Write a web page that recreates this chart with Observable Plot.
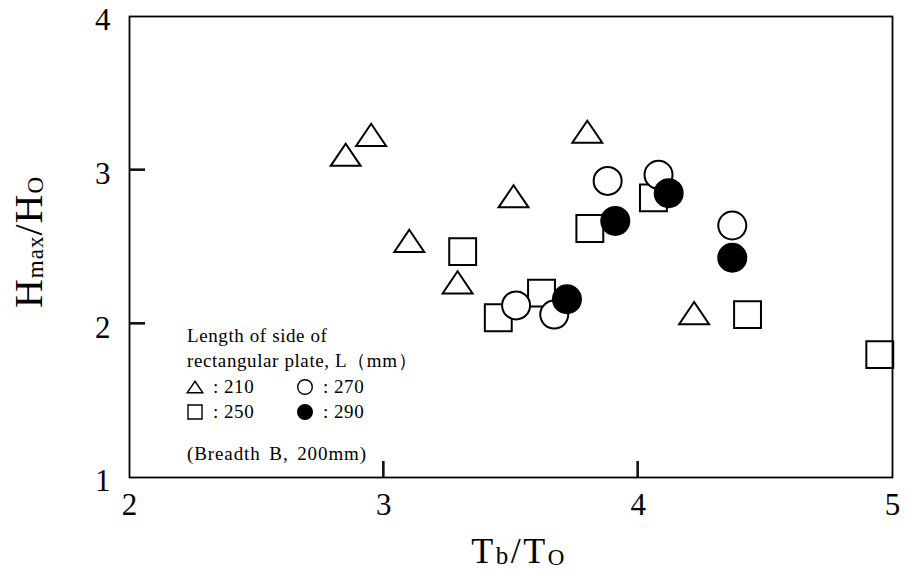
<!DOCTYPE html>
<html>
<head>
<meta charset="utf-8">
<script src="https://cdn.jsdelivr.net/npm/d3@7"></script>
<script src="https://cdn.jsdelivr.net/npm/@observablehq/plot@0.6"></script>
<style>
  html, body { margin: 0; padding: 0; background: #fff; }
  #chart { position: relative; width: 907px; height: 570px; }
</style>
</head>
<body>
<div id="chart"></div>
<script>
// ---- data ----
const triX = [2.85, 2.95, 3.80, 3.51, 3.10, 3.29, 4.22];   // L = 210 mm
const triY = [3.10, 3.23, 3.25, 2.83, 2.54, 2.27, 2.07];
const sqX  = [3.31, 3.45, 3.62, 3.81, 4.06, 4.43, 4.95];   // L = 250 mm
const sqY  = [2.47, 2.04, 2.20, 2.62, 2.82, 2.06, 1.80];
const ocX  = [3.52, 3.67, 3.88, 4.08, 4.37];               // L = 270 mm
const ocY  = [2.12, 2.06, 2.93, 2.97, 2.64];
const fcX  = [3.72, 3.91, 4.12, 4.37];                     // L = 290 mm
const fcY  = [2.16, 2.67, 2.85, 2.43];

const xDomain = [2, 5];
const yDomain = [1, 4];
const xTickLabels = [2, 3, 4, 5];
const yTickLabels = [1, 2, 3, 4];
const xTickMarks = [3, 4];
const yTickMarks = [2, 3];

const legendTitle = ["Length of side of", "rectangular plate, L（mm）"];
const legendItems = [
  {shape: "triangle", label: "210"},
  {shape: "circle",   label: "270"},
  {shape: "square",   label: "250"},
  {shape: "filled",   label: "290"}
];
const legendNote = "(Breadth B, 200mm)";

// ---- custom symbols ----
const symTriangle = {
  draw(ctx, size) {
    const r = Math.sqrt(size / Math.PI);
    const hw = 1.07 * r, hh = 0.79 * r;
    ctx.moveTo(0, -hh); ctx.lineTo(hw, hh); ctx.lineTo(-hw, hh); ctx.closePath();
  }
};
const symSquare = {
  draw(ctx, size) {
    const r = Math.sqrt(size / Math.PI);
    const h = 0.96 * r;
    ctx.moveTo(-h, -h); ctx.lineTo(h, -h); ctx.lineTo(h, h); ctx.lineTo(-h, h); ctx.closePath();
  }
};
const symCircle = {
  draw(ctx, size) {
    const r = Math.sqrt(size / Math.PI);
    ctx.moveTo(r, 0); ctx.arc(0, 0, r, 0, 2 * Math.PI);
  }
};

const zip = (xs, ys) => xs.map((x, i) => ({x, y: ys[i]}));
const R = 14;
const SW = 2;
const TICK = 16;
const font = "'Liberation Serif', 'Times New Roman', serif";

const plot = Plot.plot({
  width: 907,
  height: 570,
  marginLeft: 129,
  marginRight: 15,
  marginTop: 16,
  marginBottom: 93,
  style: {fontFamily: font, background: "#fff", color: "#000"},
  x: {domain: xDomain},
  y: {domain: yDomain},
  marks: [
    Plot.axisX({ticks: xTickLabels, tickSize: 0, tickPadding: 15, fontSize: 31, tickFormat: d3.format("d"), label: null}),
    Plot.axisY({ticks: yTickLabels, tickSize: 0, tickPadding: 19, fontSize: 31, dy: 4, tickFormat: d3.format("d"), label: null}),
    Plot.dot(zip(triX, triY), {x: "x", y: "y", r: R, symbol: symTriangle, stroke: "#000", strokeWidth: SW, fill: "#fff"}),
    Plot.dot(zip(sqX, sqY), {x: "x", y: "y", r: R, symbol: symSquare, stroke: "#000", strokeWidth: SW, fill: "#fff"}),
    Plot.dot(zip(ocX, ocY), {x: "x", y: "y", r: R, symbol: symCircle, stroke: "#000", strokeWidth: SW, fill: "#fff"}),
    Plot.dot(zip(fcX, fcY), {x: "x", y: "y", r: R, symbol: symCircle, stroke: "#000", strokeWidth: SW, fill: "#000"}),
    Plot.frame({stroke: "#000", strokeWidth: 1.8})
  ]
});

document.getElementById("chart").appendChild(plot);

const svg = d3.select(plot);
const sx = plot.scale("x"), sy = plot.scale("y");

// ---- inward tick marks, positioned through the plot's own scales ----
const tg = svg.append("g");
const yBase = sy.apply(yDomain[0]);
const xBase = sx.apply(xDomain[0]);
xTickMarks.forEach(v => {
  const px = sx.apply(v);
  tg.append("path").attr("d", `M${px},${yBase}V${yBase - TICK}`)
    .attr("fill", "none").attr("stroke", "#111").attr("stroke-width", 2.6);
});
yTickMarks.forEach(v => {
  const py = sy.apply(v);
  tg.append("path").attr("d", `M${xBase},${py}H${xBase + TICK}`)
    .attr("fill", "none").attr("stroke", "#111").attr("stroke-width", 2.6);
});

// ---- axis titles with subscripts ----
const xt = svg.append("text")
  .attr("x", 519).attr("y", 563)
  .attr("text-anchor", "middle")
  .attr("letter-spacing", 2.5)
  .attr("font-family", font).attr("font-size", 36).attr("fill", "#000");
xt.append("tspan").text("T");
xt.append("tspan").attr("font-size", 25).attr("dy", 1).text("b");
xt.append("tspan").attr("dy", -1).text("/T");
xt.append("tspan").attr("font-size", 23).attr("dy", 2).text("O");

const yt = svg.append("text")
  .attr("transform", "translate(42,242) rotate(-90)")
  .attr("text-anchor", "middle")
  .attr("letter-spacing", 1)
  .attr("font-family", font).attr("font-size", 40).attr("fill", "#000");
yt.append("tspan").text("H");
yt.append("tspan").attr("font-size", 23).attr("dy", 1).text("max");
yt.append("tspan").attr("dy", -1).text("/H");
yt.append("tspan").attr("font-size", 23).attr("dy", 1).text("O");

// ---- legend inside the frame ----
const lg = svg.append("g")
  .attr("font-family", font).attr("font-size", 19).attr("fill", "#000")
  .attr("text-anchor", "start").attr("letter-spacing", 0.6);
lg.append("text").attr("x", 187).attr("y", 342).text(legendTitle[0]);
lg.append("text").attr("x", 187).attr("y", 367).text(legendTitle[1]);
const symOf = {triangle: symTriangle, circle: symCircle, square: symSquare, filled: symCircle};
const legR = 7.3;
legendItems.forEach((d, i) => {
  const col = i % 2, row = Math.floor(i / 2);
  const cx = 195 + col * 110, cy = 387 + row * 25;
  lg.append("path")
    .attr("transform", `translate(${cx},${cy})`)
    .attr("d", d3.symbol().type(symOf[d.shape]).size(Math.PI * legR * legR)())
    .attr("fill", d.shape === "filled" ? "#000" : "none")
    .attr("stroke", "#000").attr("stroke-width", 1.4);
  lg.append("text").attr("x", cx + 18).attr("y", cy + 6).text(":");
  lg.append("text").attr("x", cx + 29).attr("y", cy + 6).text(d.label);
});
lg.append("text").attr("x", 187).attr("y", 460).attr("word-spacing", 3).attr("letter-spacing", 0.9).text(legendNote);
</script>
</body>
</html>
